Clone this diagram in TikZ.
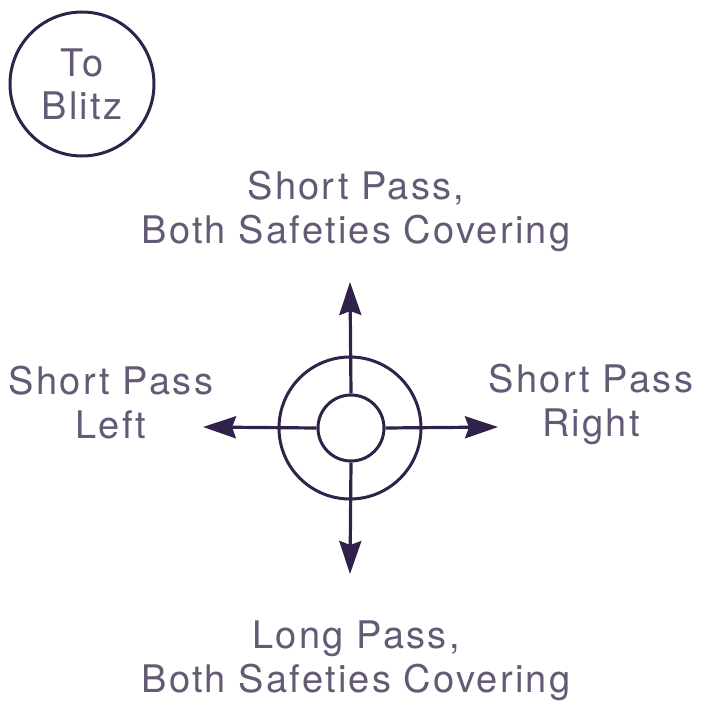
\documentclass[tikz,border=0pt]{standalone}
\usepackage{fontspec}
\setmainfont[LetterSpace=6]{TeX Gyre Heros}
\usetikzlibrary{arrows.meta}
\definecolor{ink}{RGB}{48,34,72}
\definecolor{txt}{RGB}{100,90,118}
\tikzset{
  lbl/.style={text=txt, font=\fontsize{38}{44}\selectfont, align=center, inner sep=0pt},
  ring/.style={draw=ink, line width=3pt, circle, inner sep=0pt},
  pass/.style={draw=ink, line width=3.2pt, -{Stealth[length=33pt,width=22pt,inset=4pt]}}
}
\begin{document}
\begin{tikzpicture}[x=1pt,y=-1pt]
\useasboundingbox[fill=white] (0,0) rectangle (701,701);
\node[ring, minimum size=144pt, lbl, font=\fontsize{38}{43}\selectfont] (blitz) at (82,84) {To\\Blitz};
\node[ring, minimum size=142pt] (outer) at (350,428) {};
\node[ring, minimum size=66pt] (inner) at (351,428) {};
\coordinate (tn) at (350,282);
\coordinate (ts) at (350,574);
\coordinate (tw) at (203,427);
\coordinate (te) at (498,427);
\draw[pass] (inner.north) -- (tn);
\draw[pass] (inner.south) -- (ts);
\draw[pass] (inner.west) -- (tw);
\draw[pass] (inner.east) -- (te);
\node[lbl] (top) at (356,211) {Short Pass,\\Both Safeties Covering};
\node[lbl] (left) at (111,403) {Short Pass\\Left};
\node[lbl] (right) at (591,404) {Short Pass\\Right};
\node[lbl] (bottom) at (356,661) {Long Pass,\\Both Safeties Covering};
\end{tikzpicture}
\end{document}
